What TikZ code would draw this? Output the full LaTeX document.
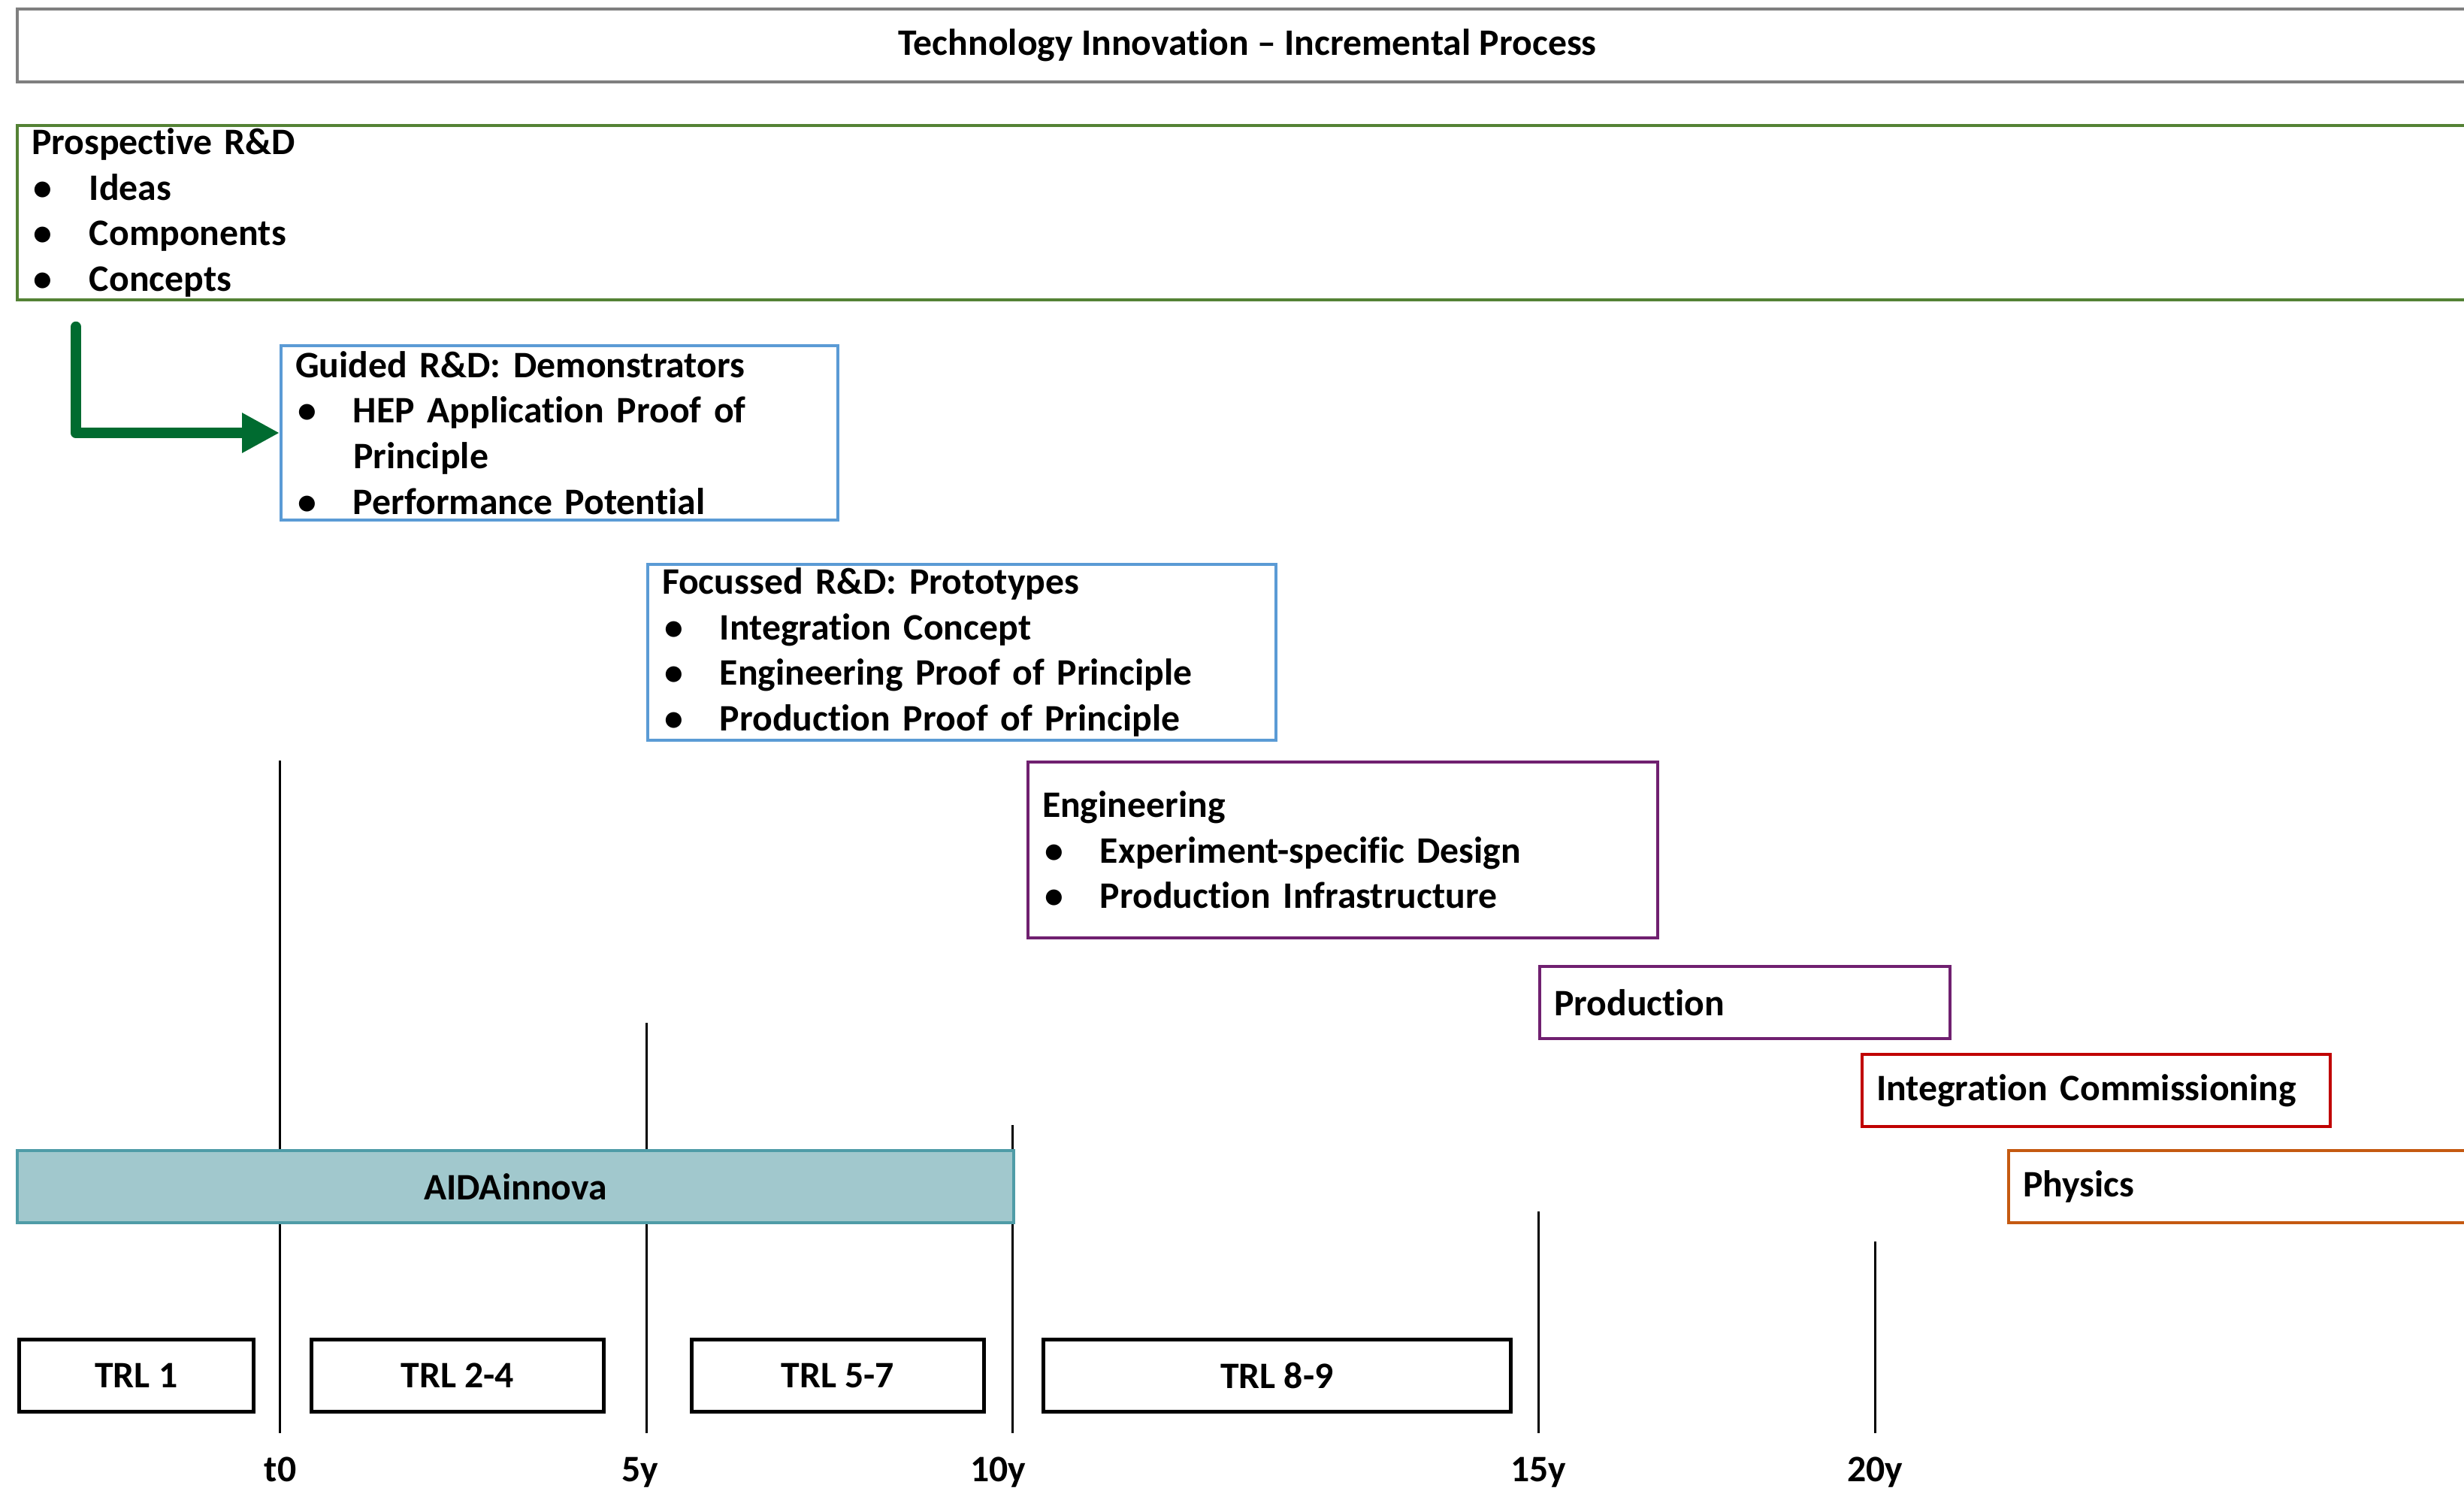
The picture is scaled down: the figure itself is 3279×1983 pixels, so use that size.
\documentclass[tikz,border=0pt]{standalone}
\usepackage{fontspec}
\setmainfont{Carlito}[Ligatures=NoCommon]
\usepackage{tikz}
\usetikzlibrary{arrows.meta,positioning}

\definecolor{framegray}{HTML}{7F7F7F}
\definecolor{prospgreen}{HTML}{548235}
\definecolor{arrowgreen}{HTML}{006B30}
\definecolor{rdblue}{HTML}{5B9BD5}
\definecolor{engpurple}{HTML}{702070}
\definecolor{intred}{HTML}{C00000}
\definecolor{physorange}{HTML}{C55A11}
\definecolor{aidafill}{HTML}{A1C8CD}
\definecolor{aidaline}{HTML}{4F9CA7}

\tikzset{
  phasebox/.style={draw=#1, line width=0.4mm, rectangle, anchor=north west,
    inner xsep=1.9mm, inner ysep=0pt, align=left},
  trlbox/.style={draw=black, line width=0.45mm, anchor=north west,
    minimum height=9.6mm, inner sep=0pt},
  tickline/.style={black, line width=0.3mm},
  greenarrow/.style={draw=arrowgreen, line width=1.45mm,
    line cap=round, line join=round, -{Triangle[length=5mm,width=5mm]}},
}
\newcommand{\itm}{\makebox[7.7mm][l]{\hspace{0.3mm}\textbullet}}

\begin{document}
\begin{tikzpicture}[x=0.1mm,y=-0.1mm,font=\fontsize{14.15pt}{17.24pt}\selectfont\bfseries]
\useasboundingbox (0,0) rectangle (3279,1983);

% time axis
\foreach \x/\top in {372/1012, 860/1361, 1347/1497, 2047/1612, 2495/1652}
  \draw[tickline] (\x,\top) -- (\x,1907);
\foreach \x/\lab in {373/t0, 852/5y, 1328/10y, 2047/15y, 2495/20y}
  \node[anchor=base, inner sep=0pt] (lab\lab) at (\x,1971) {\lab};

% header
\node[phasebox=framegray, minimum width=327.4mm, minimum height=9.7mm, align=center] (title) at (21,10)
  {Technology Innovation – Incremental Process};

% phases
\node[phasebox=prospgreen, minimum height=23.2mm, text width=330mm] (prosp) at (21,165)
  {Prospective R\&D\\ \itm Ideas\\ \itm Components\\ \itm Concepts};
\node[phasebox=rdblue, minimum height=23.2mm, text width=70.3mm] (guided) at (372,458)
  {Guided R\&D: Demonstrators\\ \itm HEP Application Proof of\\ \hspace*{7.7mm}Principle\\ \itm Performance Potential};
\node[phasebox=rdblue, minimum height=23.4mm, text width=79.8mm] (focus) at (860,749)
  {Focussed R\&D: Prototypes\\ \itm Integration Concept\\ \itm Engineering Proof of Principle\\ \itm Production Proof of Principle};
\node[phasebox=engpurple, minimum height=23.4mm, text width=80mm] (eng) at (1366,1012)
  {Engineering\\ \itm Experiment-specific Design\\ \itm Production Infrastructure};
\node[phasebox=engpurple, minimum height=9.6mm, text width=50.8mm] (prod) at (2047,1284) {Production};
\node[phasebox=intred, minimum height=9.6mm, text width=58.5mm] (integ) at (2476,1401) {Integration Commissioning};
\node[phasebox=physorange, minimum height=9.6mm, text width=66.2mm] (phys) at (2671,1529) {Physics};

\node[phasebox=aidaline, fill=aidafill, minimum height=9.6mm, minimum width=132.6mm, align=center] (aida) at (21,1529) {AIDAinnova};

% TRL levels
\node[trlbox, minimum width=31.2mm] (trl1) at (23,1780) {TRL 1};
\node[trlbox, minimum width=38.9mm] (trl2) at (412,1780) {TRL 2-4};
\node[trlbox, minimum width=38.9mm] (trl5) at (918,1780) {TRL 5-7};
\node[trlbox, minimum width=62.2mm] (trl8) at (1386,1780) {TRL 8-9};

\coordinate (arrowtop) at (101,435);
\draw[greenarrow] (arrowtop) |- (guided.west);
\end{tikzpicture}
\end{document}
